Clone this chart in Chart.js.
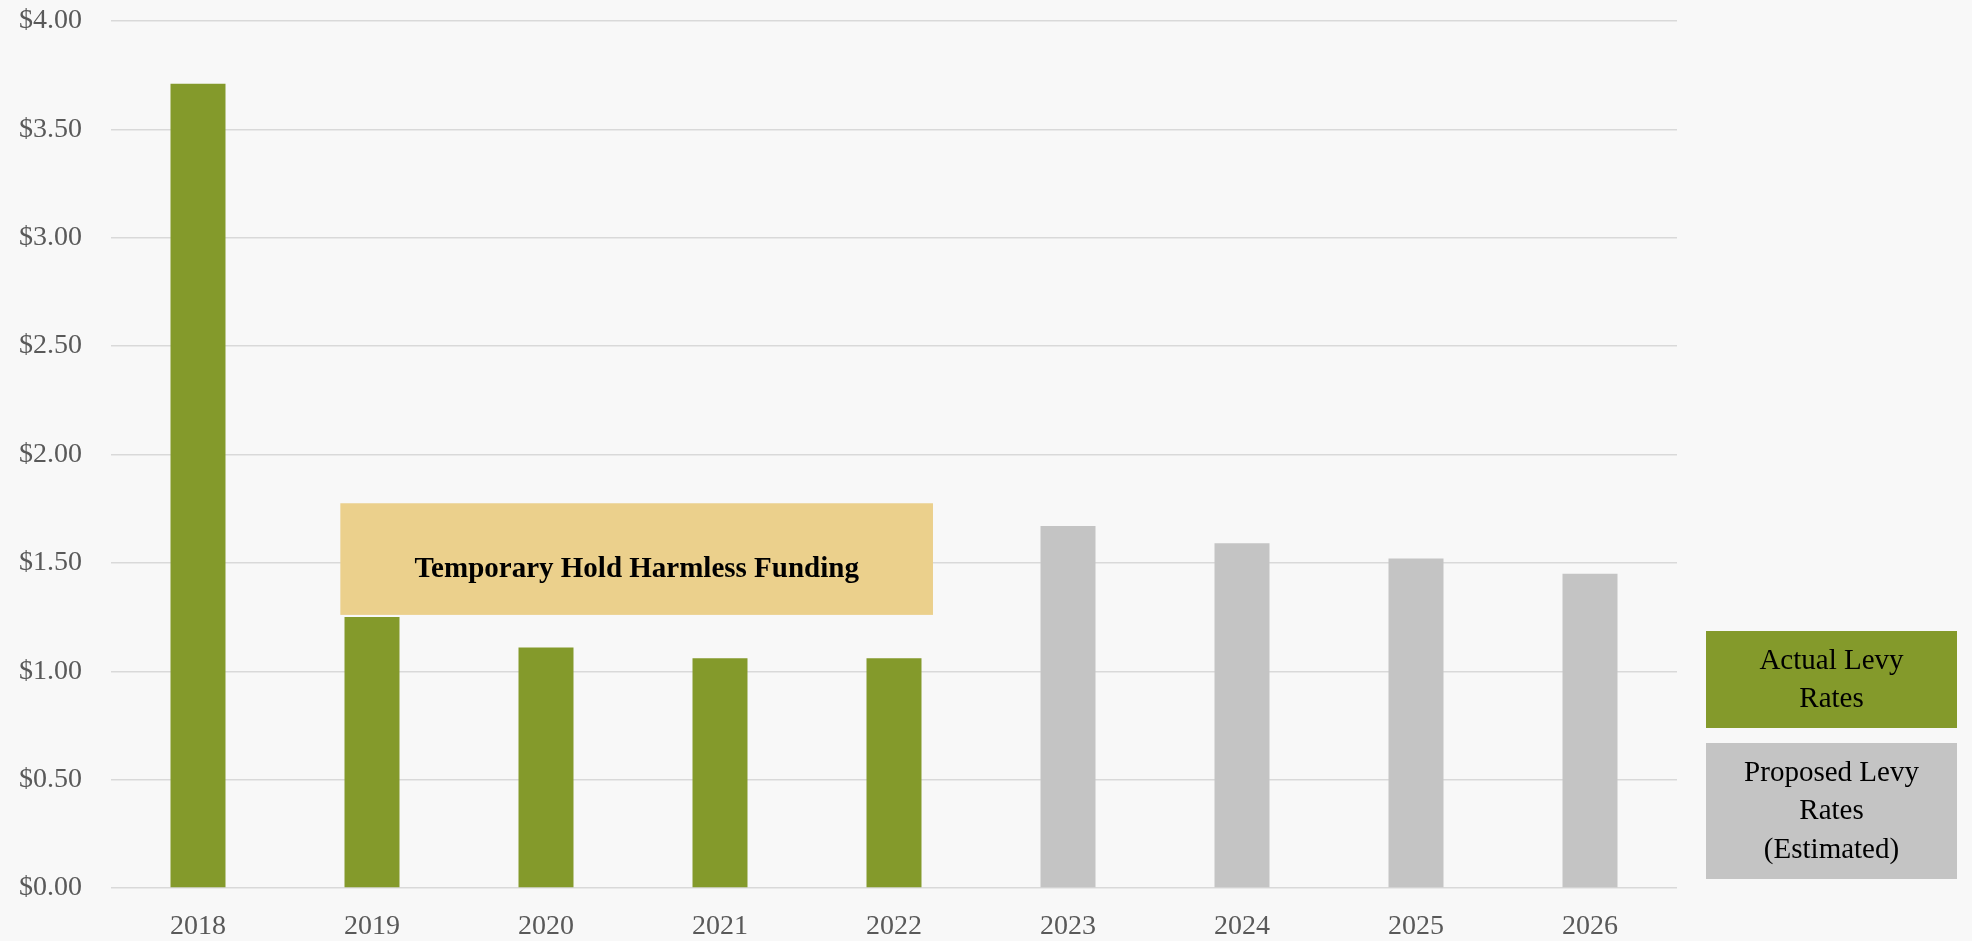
<!DOCTYPE html>
<html>
<head>
<meta charset="utf-8">
<script src="https://cdn.jsdelivr.net/npm/chart.js@4/dist/chart.umd.min.js"></script>
<style>
  html, body { margin: 0; padding: 0; background: #f8f8f8; }
  #wrap { position: relative; width: 1972px; height: 941px; }
</style>
</head>
<body>
<div id="wrap"><canvas id="c" width="1972" height="941"></canvas></div>
<script>
const categories = ["2018", "2019", "2020", "2021", "2022", "2023", "2024", "2025", "2026"];
const actualRates = [3.71, 1.25, 1.11, 1.06, 1.06, null, null, null, null];
const proposedRates = [null, null, null, null, null, 1.67, 1.59, 1.52, 1.45];
const yTicks = [0, 0.5, 1, 1.5, 2, 2.5, 3, 3.5, 4];
const annotationText = "Temporary Hold Harmless Funding";
const legendActual = ["Actual Levy", "Rates"];
const legendProposed = ["Proposed Levy", "Rates", "(Estimated)"];

const GREEN = "#849a2b";
const GREY = "#c4c4c4";
const SERIF = "'Liberation Serif', 'DejaVu Serif', serif";

const bgPlugin = {
  id: "bg",
  beforeDraw(chart) {
    const ctx = chart.ctx;
    ctx.save();
    ctx.fillStyle = "#f8f8f8";
    ctx.fillRect(0, 0, chart.width, chart.height);
    ctx.restore();
  }
};

const annotationPlugin = {
  id: "holdHarmless",
  beforeDatasetsDraw(chart) {
    const x = chart.scales.x, y = chart.scales.y, ctx = chart.ctx;
    const x0 = x.getPixelForValue(0.818), x1 = x.getPixelForValue(4.224);
    const y0 = y.getPixelForValue(1.775), y1 = y.getPixelForValue(1.26);
    ctx.save();
    ctx.fillStyle = "#ebd08c";
    ctx.fillRect(x0, y0, x1 - x0, y1 - y0);
    ctx.fillStyle = "#000000";
    ctx.font = "bold 29px " + SERIF;
    ctx.textAlign = "center";
    ctx.textBaseline = "alphabetic";
    ctx.fillText(annotationText, (x0 + x1) / 2, (y0 + y1) / 2 + 18);
    ctx.restore();
  }
};

const legendPlugin = {
  id: "boxLegend",
  afterDraw(chart) {
    const ctx = chart.ctx;
    const bx = 1706, bw = 251;
    const boxes = [
      { color: GREEN, top: 631, h: 97, lines: legendActual, first: 661 },
      { color: GREY, top: 743, h: 136, lines: legendProposed, first: 773 }
    ];
    ctx.save();
    ctx.textAlign = "center";
    ctx.textBaseline = "middle";
    ctx.font = "29px " + SERIF;
    boxes.forEach(b => {
      ctx.fillStyle = b.color;
      ctx.fillRect(bx, b.top, bw, b.h);
      ctx.fillStyle = "#000000";
      b.lines.forEach((t, i) => ctx.fillText(t, bx + bw / 2, b.first + i * 38.8));
    });
    ctx.restore();
  }
};

new Chart(document.getElementById("c"), {
  type: "bar",
  data: {
    labels: categories,
    datasets: [
      { label: "Actual Levy Rates", data: actualRates, backgroundColor: GREEN, grouped: false,
        categoryPercentage: 1, barPercentage: 0.316 },
      { label: "Proposed Levy Rates (Estimated)", data: proposedRates, backgroundColor: GREY, grouped: false,
        categoryPercentage: 1, barPercentage: 0.316 }
    ]
  },
  options: {
    responsive: false,
    animation: false,
    layout: { padding: { top: 21, right: 295, left: 0, bottom: 0 } },
    plugins: { legend: { display: false }, tooltip: { enabled: false } },
    scales: {
      x: {
        grid: { display: false, drawTicks: false },
        border: { display: false },
        ticks: { color: "#595959", font: { family: SERIF, size: 28 }, padding: 22 },
        afterFit(s) { s.height = 53; s.paddingLeft = 0; s.paddingRight = 0; }
      },
      y: {
        min: 0, max: 4,
        afterBuildTicks(s) { s.ticks = yTicks.map(v => ({ value: v })); },
        grid: { color: "#d9d9d9", lineWidth: 1.5, drawTicks: false },
        border: { display: false },
        ticks: {
          color: "#595959", font: { family: SERIF, size: 28 }, padding: 29,
          callback: v => "$" + Number(v).toFixed(2)
        },
        afterFit(s) { s.width = 111; s.paddingTop = 0; s.paddingBottom = 0; }
      }
    }
  },
  plugins: [bgPlugin, annotationPlugin, legendPlugin]
});
</script>
</body>
</html>
